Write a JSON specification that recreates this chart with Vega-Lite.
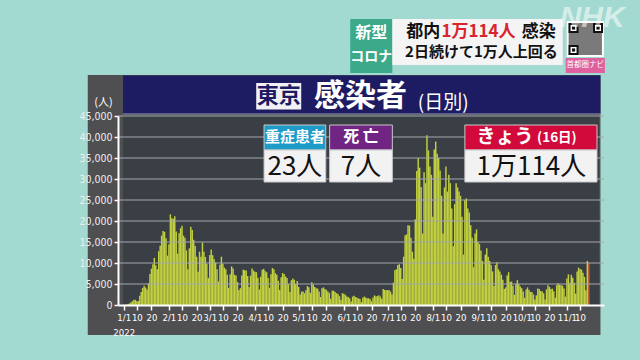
{
"$schema":"https://vega.github.io/schema/vega-lite/v6.json",
"width":486,"height":189,
"autosize":"none",
"padding":{"left":118,"top":116,"right":36,"bottom":55},
"background":"#a2d9d0",
"config":{"view":{"stroke":null},"text":{"font":"Noto Sans CJK JP"}},
"resolve":{"axis":{"x":"independent","y":"independent"}},
"datasets":{
"cases":[
{"date":"2022-01-01","count":79},{"date":"2022-01-02","count":84},{"date":"2022-01-03","count":103},{"date":"2022-01-04","count":151},{"date":"2022-01-05","count":390},{"date":"2022-01-06","count":641},{"date":"2022-01-07","count":922},{"date":"2022-01-08","count":1224},{"date":"2022-01-09","count":1223},{"date":"2022-01-10","count":871},{"date":"2022-01-11","count":962},{"date":"2022-01-12","count":2198},{"date":"2022-01-13","count":3124},{"date":"2022-01-14","count":4051},{"date":"2022-01-15","count":4561},{"date":"2022-01-16","count":4172},{"date":"2022-01-17","count":3719},{"date":"2022-01-18","count":5185},{"date":"2022-01-19","count":7377},{"date":"2022-01-20","count":8638},{"date":"2022-01-21","count":9699},{"date":"2022-01-22","count":11227},{"date":"2022-01-23","count":9468},{"date":"2022-01-24","count":8503},{"date":"2022-01-25","count":12813},{"date":"2022-01-26","count":14086},{"date":"2022-01-27","count":16538},{"date":"2022-01-28","count":17631},{"date":"2022-01-29","count":17433},{"date":"2022-01-30","count":15895},{"date":"2022-01-31","count":11751},
{"date":"2022-02-01","count":14445},{"date":"2022-02-02","count":21576},{"date":"2022-02-03","count":20679},{"date":"2022-02-04","count":20525},{"date":"2022-02-05","count":21122},{"date":"2022-02-06","count":17526},{"date":"2022-02-07","count":12214},{"date":"2022-02-08","count":17113},{"date":"2022-02-09","count":18287},{"date":"2022-02-10","count":18891},{"date":"2022-02-11","count":16500},{"date":"2022-02-12","count":16000},{"date":"2022-02-13","count":13000},{"date":"2022-02-14","count":8500},{"date":"2022-02-15","count":13500},{"date":"2022-02-16","count":18660},{"date":"2022-02-17","count":17864},{"date":"2022-02-18","count":15525},{"date":"2022-02-19","count":14071},{"date":"2022-02-20","count":11500},{"date":"2022-02-21","count":7934},{"date":"2022-02-22","count":12694},{"date":"2022-02-23","count":11500},{"date":"2022-02-24","count":14867},{"date":"2022-02-25","count":12660},{"date":"2022-02-26","count":11451},{"date":"2022-02-27","count":9800},{"date":"2022-02-28","count":6400},
{"date":"2022-03-01","count":11898},{"date":"2022-03-02","count":13239},{"date":"2022-03-03","count":11861},{"date":"2022-03-04","count":10906},{"date":"2022-03-05","count":10136},{"date":"2022-03-06","count":8500},{"date":"2022-03-07","count":5628},{"date":"2022-03-08","count":9574},{"date":"2022-03-09","count":11500},{"date":"2022-03-10","count":9800},{"date":"2022-03-11","count":8900},{"date":"2022-03-12","count":8500},{"date":"2022-03-13","count":7200},{"date":"2022-03-14","count":4100},{"date":"2022-03-15","count":7300},{"date":"2022-03-16","count":9200},{"date":"2022-03-17","count":8700},{"date":"2022-03-18","count":7200},{"date":"2022-03-19","count":7000},{"date":"2022-03-20","count":5500},{"date":"2022-03-21","count":3600},{"date":"2022-03-22","count":4000},{"date":"2022-03-23","count":7000},{"date":"2022-03-24","count":8400},{"date":"2022-03-25","count":8300},{"date":"2022-03-26","count":8200},{"date":"2022-03-27","count":6900},{"date":"2022-03-28","count":4300},{"date":"2022-03-29","count":7000},{"date":"2022-03-30","count":8700},{"date":"2022-03-31","count":8200},
{"date":"2022-04-01","count":7900},{"date":"2022-04-02","count":7800},{"date":"2022-04-03","count":6500},{"date":"2022-04-04","count":3700},{"date":"2022-04-05","count":6700},{"date":"2022-04-06","count":8400},{"date":"2022-04-07","count":8600},{"date":"2022-04-08","count":8100},{"date":"2022-04-09","count":7800},{"date":"2022-04-10","count":6400},{"date":"2022-04-11","count":4100},{"date":"2022-04-12","count":7300},{"date":"2022-04-13","count":8800},{"date":"2022-04-14","count":8500},{"date":"2022-04-15","count":7600},{"date":"2022-04-16","count":7200},{"date":"2022-04-17","count":5800},{"date":"2022-04-18","count":3600},{"date":"2022-04-19","count":6600},{"date":"2022-04-20","count":7600},{"date":"2022-04-21","count":7400},{"date":"2022-04-22","count":6800},{"date":"2022-04-23","count":6400},{"date":"2022-04-24","count":5000},{"date":"2022-04-25","count":3100},{"date":"2022-04-26","count":5900},{"date":"2022-04-27","count":6300},{"date":"2022-04-28","count":6000},{"date":"2022-04-29","count":5000},{"date":"2022-04-30","count":5700},
{"date":"2022-05-01","count":4300},{"date":"2022-05-02","count":2500},{"date":"2022-05-03","count":3200},{"date":"2022-05-04","count":3200},{"date":"2022-05-05","count":2800},{"date":"2022-05-06","count":3500},{"date":"2022-05-07","count":4500},{"date":"2022-05-08","count":4200},{"date":"2022-05-09","count":2900},{"date":"2022-05-10","count":5400},{"date":"2022-05-11","count":4900},{"date":"2022-05-12","count":4300},{"date":"2022-05-13","count":4000},{"date":"2022-05-14","count":3900},{"date":"2022-05-15","count":3200},{"date":"2022-05-16","count":1900},{"date":"2022-05-17","count":4000},{"date":"2022-05-18","count":4200},{"date":"2022-05-19","count":3800},{"date":"2022-05-20","count":3600},{"date":"2022-05-21","count":3200},{"date":"2022-05-22","count":2900},{"date":"2022-05-23","count":1500},{"date":"2022-05-24","count":3400},{"date":"2022-05-25","count":3400},{"date":"2022-05-26","count":3100},{"date":"2022-05-27","count":2800},{"date":"2022-05-28","count":2600},{"date":"2022-05-29","count":2100},{"date":"2022-05-30","count":1200},{"date":"2022-05-31","count":2800},
{"date":"2022-06-01","count":2700},{"date":"2022-06-02","count":2400},{"date":"2022-06-03","count":2000},{"date":"2022-06-04","count":1900},{"date":"2022-06-05","count":1600},{"date":"2022-06-06","count":850},{"date":"2022-06-07","count":2000},{"date":"2022-06-08","count":2200},{"date":"2022-06-09","count":1900},{"date":"2022-06-10","count":1700},{"date":"2022-06-11","count":1600},{"date":"2022-06-12","count":1400},{"date":"2022-06-13","count":700},{"date":"2022-06-14","count":1700},{"date":"2022-06-15","count":2000},{"date":"2022-06-16","count":1800},{"date":"2022-06-17","count":1600},{"date":"2022-06-18","count":1600},{"date":"2022-06-19","count":1400},{"date":"2022-06-20","count":900},{"date":"2022-06-21","count":1800},{"date":"2022-06-22","count":2300},{"date":"2022-06-23","count":2100},{"date":"2022-06-24","count":2100},{"date":"2022-06-25","count":2300},{"date":"2022-06-26","count":2000},{"date":"2022-06-27","count":1500},{"date":"2022-06-28","count":3800},{"date":"2022-06-29","count":3600},{"date":"2022-06-30","count":3500},
{"date":"2022-07-01","count":3546},{"date":"2022-07-02","count":3600},{"date":"2022-07-03","count":3200},{"date":"2022-07-04","count":2500},{"date":"2022-07-05","count":5300},{"date":"2022-07-06","count":8300},{"date":"2022-07-07","count":8500},{"date":"2022-07-08","count":9500},{"date":"2022-07-09","count":9700},{"date":"2022-07-10","count":8800},{"date":"2022-07-11","count":6200},{"date":"2022-07-12","count":11500},{"date":"2022-07-13","count":16600},{"date":"2022-07-14","count":16800},{"date":"2022-07-15","count":19000},{"date":"2022-07-16","count":18900},{"date":"2022-07-17","count":16000},{"date":"2022-07-18","count":12700},{"date":"2022-07-19","count":11000},{"date":"2022-07-20","count":20400},{"date":"2022-07-21","count":31900},{"date":"2022-07-22","count":35000},{"date":"2022-07-23","count":32700},{"date":"2022-07-24","count":28100},{"date":"2022-07-25","count":17000},{"date":"2022-07-26","count":31600},{"date":"2022-07-27","count":29000},{"date":"2022-07-28","count":40406},{"date":"2022-07-29","count":36814},{"date":"2022-07-30","count":33000},{"date":"2022-07-31","count":31000},
{"date":"2022-08-01","count":21000},{"date":"2022-08-02","count":37000},{"date":"2022-08-03","count":38900},{"date":"2022-08-04","count":36000},{"date":"2022-08-05","count":35000},{"date":"2022-08-06","count":32000},{"date":"2022-08-07","count":26000},{"date":"2022-08-08","count":17000},{"date":"2022-08-09","count":28000},{"date":"2022-08-10","count":33000},{"date":"2022-08-11","count":27000},{"date":"2022-08-12","count":31000},{"date":"2022-08-13","count":29000},{"date":"2022-08-14","count":23000},{"date":"2022-08-15","count":14000},{"date":"2022-08-16","count":24000},{"date":"2022-08-17","count":29000},{"date":"2022-08-18","count":28000},{"date":"2022-08-19","count":27000},{"date":"2022-08-20","count":26000},{"date":"2022-08-21","count":21000},{"date":"2022-08-22","count":12000},{"date":"2022-08-23","count":25000},{"date":"2022-08-24","count":25400},{"date":"2022-08-25","count":23000},{"date":"2022-08-26","count":22000},{"date":"2022-08-27","count":19000},{"date":"2022-08-28","count":16000},{"date":"2022-08-29","count":9000},{"date":"2022-08-30","count":17000},{"date":"2022-08-31","count":18000},
{"date":"2022-09-01","count":15000},{"date":"2022-09-02","count":14500},{"date":"2022-09-03","count":13000},{"date":"2022-09-04","count":10500},{"date":"2022-09-05","count":6000},{"date":"2022-09-06","count":12000},{"date":"2022-09-07","count":13500},{"date":"2022-09-08","count":11500},{"date":"2022-09-09","count":10500},{"date":"2022-09-10","count":9500},{"date":"2022-09-11","count":8000},{"date":"2022-09-12","count":4500},{"date":"2022-09-13","count":9500},{"date":"2022-09-14","count":10200},{"date":"2022-09-15","count":8500},{"date":"2022-09-16","count":8000},{"date":"2022-09-17","count":7200},{"date":"2022-09-18","count":6000},{"date":"2022-09-19","count":3800},{"date":"2022-09-20","count":4200},{"date":"2022-09-21","count":7000},{"date":"2022-09-22","count":7800},{"date":"2022-09-23","count":5500},{"date":"2022-09-24","count":5600},{"date":"2022-09-25","count":4600},{"date":"2022-09-26","count":2400},{"date":"2022-09-27","count":5000},{"date":"2022-09-28","count":5900},{"date":"2022-09-29","count":5000},{"date":"2022-09-30","count":4400},
{"date":"2022-10-01","count":4000},{"date":"2022-10-02","count":3200},{"date":"2022-10-03","count":1700},{"date":"2022-10-04","count":3700},{"date":"2022-10-05","count":4200},{"date":"2022-10-06","count":3600},{"date":"2022-10-07","count":3100},{"date":"2022-10-08","count":3100},{"date":"2022-10-09","count":2500},{"date":"2022-10-10","count":1300},{"date":"2022-10-11","count":2300},{"date":"2022-10-12","count":3900},{"date":"2022-10-13","count":3800},{"date":"2022-10-14","count":3300},{"date":"2022-10-15","count":3300},{"date":"2022-10-16","count":2800},{"date":"2022-10-17","count":1300},{"date":"2022-10-18","count":3700},{"date":"2022-10-19","count":4700},{"date":"2022-10-20","count":4300},{"date":"2022-10-21","count":3800},{"date":"2022-10-22","count":3900},{"date":"2022-10-23","count":3300},{"date":"2022-10-24","count":1700},{"date":"2022-10-25","count":4700},{"date":"2022-10-26","count":5200},{"date":"2022-10-27","count":4800},{"date":"2022-10-28","count":4700},{"date":"2022-10-29","count":4600},{"date":"2022-10-30","count":3900},{"date":"2022-10-31","count":2000},
{"date":"2022-11-01","count":6300},{"date":"2022-11-02","count":7300},{"date":"2022-11-03","count":5300},{"date":"2022-11-04","count":7200},{"date":"2022-11-05","count":6500},{"date":"2022-11-06","count":5300},{"date":"2022-11-07","count":2700},{"date":"2022-11-08","count":8000},{"date":"2022-11-09","count":8900},{"date":"2022-11-10","count":8600},{"date":"2022-11-11","count":8400},{"date":"2022-11-12","count":7700},{"date":"2022-11-13","count":6700},{"date":"2022-11-14","count":3500},{"date":"2022-11-15","count":10511},{"date":"2022-11-16","count":10114}
],
"grid":[{"level":5000},{"level":10000},{"level":15000},{"level":20000},{"level":25000},{"level":30000},{"level":35000},{"level":40000},{"level":45000}]
},
"layer":[
{"data":{"values":[{}]},"mark":{"type":"rect","fill":"#4f4f51"},"encoding":{"x":{"datum":{"year":2021,"month":12,"date":7,"hours":8,"utc":true},"type":"temporal","axis":null},"x2":{"datum":{"year":2022,"month":11,"date":24,"utc":true}},"y":{"datum":-7150,"type":"quantitative","axis":null},"y2":{"datum":54760}}},
{"data":{"values":[{}]},"mark":{"type":"rect","fill":"#3a3e45"},"encoding":{"x":{"datum":{"year":2021,"month":12,"date":31,"hours":12,"utc":true},"type":"temporal","axis":null},"x2":{"datum":{"year":2022,"month":11,"date":23,"utc":true}},"y":{"datum":0,"type":"quantitative","axis":null},"y2":{"datum":45480}}},
{"data":{"values":[{}]},"mark":{"type":"rect","fill":"#1d1b62"},"encoding":{"x":{"datum":{"year":2021,"month":12,"date":31,"hours":12,"utc":true},"type":"temporal","axis":null},"x2":{"datum":{"year":2022,"month":11,"date":24,"utc":true}},"y":{"datum":45480,"type":"quantitative","axis":null},"y2":{"datum":54640}}},
{"data":{"values":[{}]},"mark":{"type":"rule","color":"#9a9cb0","strokeWidth":1},"encoding":{"x":{"datum":{"year":2021,"month":12,"date":31,"hours":12,"utc":true},"type":"temporal","axis":null},"x2":{"datum":{"year":2022,"month":11,"date":24,"utc":true}},"y":{"datum":45480,"type":"quantitative","axis":null}}},
{"data":{"name":"cases"},"mark":{"type":"bar","width":1.45},
 "encoding":{
  "x":{"field":"date","type":"temporal",
   "scale":{"type":"utc","domain":[{"year":2021,"month":12,"date":31,"hours":12,"utc":true},{"year":2022,"month":11,"date":23,"utc":true}]},
   "axis":{"title":null,"grid":false,"zindex":1,"labelAngle":0,"labelOverlap":false,"labelFlush":false,
    "values":[{"year":2022,"month":1,"date":1,"utc":true},{"year":2022,"month":1,"date":10,"utc":true},{"year":2022,"month":1,"date":20,"utc":true},{"year":2022,"month":2,"date":1,"utc":true},{"year":2022,"month":2,"date":10,"utc":true},{"year":2022,"month":2,"date":20,"utc":true},{"year":2022,"month":3,"date":1,"utc":true},{"year":2022,"month":3,"date":10,"utc":true},{"year":2022,"month":3,"date":20,"utc":true},{"year":2022,"month":4,"date":1,"utc":true},{"year":2022,"month":4,"date":10,"utc":true},{"year":2022,"month":4,"date":20,"utc":true},{"year":2022,"month":5,"date":1,"utc":true},{"year":2022,"month":5,"date":10,"utc":true},{"year":2022,"month":5,"date":20,"utc":true},{"year":2022,"month":6,"date":1,"utc":true},{"year":2022,"month":6,"date":10,"utc":true},{"year":2022,"month":6,"date":20,"utc":true},{"year":2022,"month":7,"date":1,"utc":true},{"year":2022,"month":7,"date":10,"utc":true},{"year":2022,"month":7,"date":20,"utc":true},{"year":2022,"month":8,"date":1,"utc":true},{"year":2022,"month":8,"date":10,"utc":true},{"year":2022,"month":8,"date":20,"utc":true},{"year":2022,"month":9,"date":1,"utc":true},{"year":2022,"month":9,"date":10,"utc":true},{"year":2022,"month":9,"date":20,"utc":true},{"year":2022,"month":10,"date":1,"utc":true},{"year":2022,"month":10,"date":10,"utc":true},{"year":2022,"month":10,"date":20,"utc":true},{"year":2022,"month":11,"date":1,"utc":true},{"year":2022,"month":11,"date":10,"utc":true}],
    "labelExpr":"utcdate(datum.value) == 1 ? (utcmonth(datum.value) == 0 ? ['1/1', '2022'] : (utcmonth(datum.value) + 1) + '/1') : '' + utcdate(datum.value)",
    "labelColor":"#ffffff","labelFont":"Liberation Sans Narrow, DejaVu Sans Condensed, Roboto","labelFontSize":9.5,"labelLineHeight":15,"labelPadding":2,
    "tickColor":"#ffffff","tickSize":5,"tickWidth":1.5,"domainColor":"#ffffff","domainWidth":2}},
  "y":{"field":"count","type":"quantitative","scale":{"domain":[0,45000],"nice":false},
   "axis":{"title":null,"grid":false,"zindex":1,"values":[0,5000,10000,15000,20000,25000,30000,35000,40000,45000],"format":",d",
    "labelColor":"#eeeeee","labelFont":"Liberation Sans Narrow, DejaVu Sans Condensed, Roboto","labelFontSize":10.5,"labelPadding":2,
    "tickColor":"#ffffff","tickSize":4,"tickWidth":1.5,"domainColor":"#ffffff","domainWidth":2}},
  "color":{"condition":{"test":"utcmonth(datum.date) == 10 && utcdate(datum.date) == 16","value":"#c8642c"},"value":"#c2d13f"}
 }},
{"data":{"name":"grid"},"mark":{"type":"rule","color":"#a4a8ad","strokeWidth":1},"encoding":{"y":{"field":"level","type":"quantitative","axis":null}}},
{"data":{"values":[{}]},"mark":{"type":"rect","fill":"#1f9bc8","stroke":"#c8c8c8","strokeWidth":1},"encoding":{"x":{"datum":{"year":2022,"month":4,"date":7,"hours":6,"utc":true},"type":"temporal","axis":null},"x2":{"datum":{"year":2022,"month":5,"date":19,"hours":14,"utc":true}},"y":{"datum":36905,"type":"quantitative","axis":null},"y2":{"datum":42857}}},
{"data":{"values":[{}]},"mark":{"type":"rect","fill":"#f2f2f2","stroke":"#c8c8c8","strokeWidth":1},"encoding":{"x":{"datum":{"year":2022,"month":4,"date":7,"hours":6,"utc":true},"type":"temporal","axis":null},"x2":{"datum":{"year":2022,"month":5,"date":19,"hours":14,"utc":true}},"y":{"datum":29285,"type":"quantitative","axis":null},"y2":{"datum":36905}}},
{"data":{"values":[{}]},"mark":{"type":"rect","fill":"#6f2581","stroke":"#c8c8c8","strokeWidth":1},"encoding":{"x":{"datum":{"year":2022,"month":5,"date":22,"hours":6,"utc":true},"type":"temporal","axis":null},"x2":{"datum":{"year":2022,"month":7,"date":4,"hours":6,"utc":true}},"y":{"datum":36905,"type":"quantitative","axis":null},"y2":{"datum":42857}}},
{"data":{"values":[{}]},"mark":{"type":"rect","fill":"#f2f2f2","stroke":"#c8c8c8","strokeWidth":1},"encoding":{"x":{"datum":{"year":2022,"month":5,"date":22,"hours":6,"utc":true},"type":"temporal","axis":null},"x2":{"datum":{"year":2022,"month":7,"date":4,"hours":6,"utc":true}},"y":{"datum":29285,"type":"quantitative","axis":null},"y2":{"datum":36905}}},
{"data":{"values":[{}]},"mark":{"type":"rect","fill":"#d20a3c","stroke":"#c8c8c8","strokeWidth":1},"encoding":{"x":{"datum":{"year":2022,"month":8,"date":23,"utc":true},"type":"temporal","axis":null},"x2":{"datum":{"year":2022,"month":11,"date":21,"hours":15,"utc":true}},"y":{"datum":36905,"type":"quantitative","axis":null},"y2":{"datum":42857}}},
{"data":{"values":[{}]},"mark":{"type":"rect","fill":"#f2f2f2","stroke":"#c8c8c8","strokeWidth":1},"encoding":{"x":{"datum":{"year":2022,"month":8,"date":23,"utc":true},"type":"temporal","axis":null},"x2":{"datum":{"year":2022,"month":11,"date":21,"hours":15,"utc":true}},"y":{"datum":29285,"type":"quantitative","axis":null},"y2":{"datum":36905}}},
{"data":{"values":[{}]},"mark":{"type":"text","text":"重症患者","fontSize":15,"fontWeight":"bold","color":"#ffffff","align":"center","baseline":"middle"},"encoding":{"x":{"datum":{"year":2022,"month":4,"date":28,"hours":10,"utc":true},"type":"temporal","axis":null},"y":{"datum":40000,"type":"quantitative","axis":null}}},
{"data":{"values":[{}]},"mark":{"type":"text","text":"23人","fontSize":26,"color":"#111111","align":"center","baseline":"middle"},"encoding":{"x":{"datum":{"year":2022,"month":4,"date":28,"hours":10,"utc":true},"type":"temporal","axis":null},"y":{"datum":32800,"type":"quantitative","axis":null}}},
{"data":{"values":[{}]},"mark":{"type":"text","text":"死 亡","fontSize":16,"fontWeight":"bold","color":"#ffffff","align":"center","baseline":"middle"},"encoding":{"x":{"datum":{"year":2022,"month":6,"date":12,"hours":18,"utc":true},"type":"temporal","axis":null},"y":{"datum":40000,"type":"quantitative","axis":null}}},
{"data":{"values":[{}]},"mark":{"type":"text","text":"7人","fontSize":26,"color":"#111111","align":"center","baseline":"middle"},"encoding":{"x":{"datum":{"year":2022,"month":6,"date":12,"hours":18,"utc":true},"type":"temporal","axis":null},"y":{"datum":32800,"type":"quantitative","axis":null}}},
{"data":{"values":[{}]},"mark":{"type":"text","text":"きょう","fontSize":19,"fontWeight":"bold","color":"#ffffff","align":"center","baseline":"middle"},"encoding":{"x":{"datum":{"year":2022,"month":9,"date":19,"hours":12,"utc":true},"type":"temporal","axis":null},"y":{"datum":39900,"type":"quantitative","axis":null}}},
{"data":{"values":[{}]},"mark":{"type":"text","text":"(16日)","fontSize":13.5,"fontWeight":"bold","color":"#ffffff","align":"center","baseline":"middle"},"encoding":{"x":{"datum":{"year":2022,"month":10,"date":25,"hours":3,"utc":true},"type":"temporal","axis":null},"y":{"datum":39700,"type":"quantitative","axis":null}}},
{"data":{"values":[{}]},"mark":{"type":"text","text":"1万114人","fontSize":26,"color":"#111111","align":"center","baseline":"middle"},"encoding":{"x":{"datum":{"year":2022,"month":10,"date":7,"hours":15,"utc":true},"type":"temporal","axis":null},"y":{"datum":32800,"type":"quantitative","axis":null}}},
{"data":{"values":[{}]},"mark":{"type":"rect","fill":"#f0f0f5"},"encoding":{"x":{"datum":{"year":2022,"month":4,"date":1,"hours":21,"utc":true},"type":"temporal","axis":null},"x2":{"datum":{"year":2022,"month":5,"date":2,"hours":18,"utc":true}},"y":{"datum":46548,"type":"quantitative","axis":null},"y2":{"datum":52857}}},
{"data":{"values":[{}]},"mark":{"type":"text","text":"東京","fontSize":22,"fontWeight":"bold","color":"#1d1b62","align":"center","baseline":"middle"},"encoding":{"x":{"datum":{"year":2022,"month":4,"date":17,"hours":7,"utc":true},"type":"temporal","axis":null},"y":{"datum":49643,"type":"quantitative","axis":null}}},
{"data":{"values":[{}]},"mark":{"type":"text","text":"感染者","fontSize":31,"fontWeight":"bold","color":"#ffffff","align":"left","baseline":"middle"},"encoding":{"x":{"datum":{"year":2022,"month":5,"date":11,"hours":12,"utc":true},"type":"temporal","axis":null},"y":{"datum":49524,"type":"quantitative","axis":null}}},
{"data":{"values":[{}]},"mark":{"type":"text","text":"(日別)","fontSize":19,"color":"#ffffff","align":"left","baseline":"middle"},"encoding":{"x":{"datum":{"year":2022,"month":7,"date":21,"hours":17,"utc":true},"type":"temporal","axis":null},"y":{"datum":48095,"type":"quantitative","axis":null}}},
{"data":{"values":[{}]},"mark":{"type":"text","text":"(人)","fontSize":11,"color":"#ffffff","align":"center","baseline":"middle"},"encoding":{"x":{"datum":{"year":2021,"month":12,"date":18,"hours":2,"utc":true},"type":"temporal","axis":null},"y":{"datum":48095,"type":"quantitative","axis":null}}},
{"data":{"values":[{}]},"mark":{"type":"rect","fill":"#3ca98b"},"encoding":{"x":{"datum":{"year":2022,"month":6,"date":5,"hours":9,"utc":true},"type":"temporal","axis":null},"x2":{"datum":{"year":2022,"month":7,"date":4,"hours":6,"utc":true}},"y":{"datum":55238,"type":"quantitative","axis":null},"y2":{"datum":68096}}},
{"data":{"values":[{}]},"mark":{"type":"text","text":"新型","fontSize":16,"fontWeight":"bold","color":"#ffffff","align":"center","baseline":"middle"},"encoding":{"x":{"datum":{"year":2022,"month":6,"date":19,"hours":19,"utc":true},"type":"temporal","axis":null},"y":{"datum":64762,"type":"quantitative","axis":null}}},
{"data":{"values":[{}]},"mark":{"type":"text","text":"コロナ","fontSize":14,"fontWeight":"bold","color":"#ffffff","align":"center","baseline":"middle"},"encoding":{"x":{"datum":{"year":2022,"month":6,"date":19,"hours":19,"utc":true},"type":"temporal","axis":null},"y":{"datum":59048,"type":"quantitative","axis":null}}},
{"data":{"values":[{}]},"mark":{"type":"rect","fill":"#f4f4f4"},"encoding":{"x":{"datum":{"year":2022,"month":7,"date":4,"hours":6,"utc":true},"type":"temporal","axis":null},"x2":{"datum":{"year":2022,"month":10,"date":29,"hours":3,"utc":true}},"y":{"datum":57143,"type":"quantitative","axis":null},"y2":{"datum":68096}}},
{"data":{"values":[{}]},"mark":{"type":"text","text":"都内","fontSize":17,"fontWeight":"bold","color":"#111111","align":"center","baseline":"middle"},"encoding":{"x":{"datum":{"year":2022,"month":7,"date":25,"hours":10,"utc":true},"type":"temporal","axis":null},"y":{"datum":65119,"type":"quantitative","axis":null}}},
{"data":{"values":[{}]},"mark":{"type":"text","text":"1万114人","fontSize":17,"fontWeight":"bold","color":"#d9232e","align":"center","baseline":"middle"},"encoding":{"x":{"datum":{"year":2022,"month":9,"date":1,"hours":9,"utc":true},"type":"temporal","axis":null},"y":{"datum":65119,"type":"quantitative","axis":null}}},
{"data":{"values":[{}]},"mark":{"type":"text","text":"感染","fontSize":17,"fontWeight":"bold","color":"#111111","align":"center","baseline":"middle"},"encoding":{"x":{"datum":{"year":2022,"month":10,"date":12,"hours":16,"utc":true},"type":"temporal","axis":null},"y":{"datum":65119,"type":"quantitative","axis":null}}},
{"data":{"values":[{}]},"mark":{"type":"text","text":"2日続けて1万人上回る","fontSize":15,"fontWeight":"bold","color":"#111111","align":"center","baseline":"middle"},"encoding":{"x":{"datum":{"year":2022,"month":9,"date":3,"hours":9,"utc":true},"type":"temporal","axis":null},"y":{"datum":60357,"type":"quantitative","axis":null}}},
{"data":{"values":[{}]},"mark":{"type":"rect","fill":"#ffffff"},"encoding":{"x":{"datum":{"year":2022,"month":10,"date":31,"hours":20,"utc":true},"type":"temporal","axis":null},"x2":{"datum":{"year":2022,"month":11,"date":26,"hours":9,"utc":true}},"y":{"datum":59048,"type":"quantitative","axis":null},"y2":{"datum":67619}}},
{"data":{"values":[{}]},"mark":{"type":"rect","fill":"#7a7a7a"},"encoding":{"x":{"datum":{"year":2022,"month":11,"date":2,"hours":4,"utc":true},"type":"temporal","axis":null},"x2":{"datum":{"year":2022,"month":11,"date":25,"hours":0,"utc":true}},"y":{"datum":59524,"type":"quantitative","axis":null},"y2":{"datum":67143}}},
{"data":{"values":[{}]},"mark":{"type":"point","shape":"square","size":64,"filled":true,"fill":"#ffffff","stroke":"#111111","strokeWidth":2,"opacity":1},"encoding":{"x":{"datum":{"year":2022,"month":11,"date":5,"hours":13,"utc":true},"type":"temporal","axis":null},"y":{"datum":65953,"type":"quantitative","axis":null}}},
{"data":{"values":[{}]},"mark":{"type":"point","shape":"square","size":64,"filled":true,"fill":"#ffffff","stroke":"#111111","strokeWidth":2,"opacity":1},"encoding":{"x":{"datum":{"year":2022,"month":11,"date":22,"hours":8,"utc":true},"type":"temporal","axis":null},"y":{"datum":65953,"type":"quantitative","axis":null}}},
{"data":{"values":[{}]},"mark":{"type":"point","shape":"square","size":64,"filled":true,"fill":"#ffffff","stroke":"#111111","strokeWidth":2,"opacity":1},"encoding":{"x":{"datum":{"year":2022,"month":11,"date":5,"hours":13,"utc":true},"type":"temporal","axis":null},"y":{"datum":60715,"type":"quantitative","axis":null}}},
{"data":{"values":[{}]},"mark":{"type":"point","shape":"square","size":10,"filled":true,"color":"#111111","opacity":1},"encoding":{"x":{"datum":{"year":2022,"month":11,"date":5,"hours":13,"utc":true},"type":"temporal","axis":null},"y":{"datum":65953,"type":"quantitative","axis":null}}},
{"data":{"values":[{}]},"mark":{"type":"point","shape":"square","size":10,"filled":true,"color":"#111111","opacity":1},"encoding":{"x":{"datum":{"year":2022,"month":11,"date":22,"hours":8,"utc":true},"type":"temporal","axis":null},"y":{"datum":65953,"type":"quantitative","axis":null}}},
{"data":{"values":[{}]},"mark":{"type":"point","shape":"square","size":10,"filled":true,"color":"#111111","opacity":1},"encoding":{"x":{"datum":{"year":2022,"month":11,"date":5,"hours":13,"utc":true},"type":"temporal","axis":null},"y":{"datum":60715,"type":"quantitative","axis":null}}},
{"data":{"values":[{}]},"mark":{"type":"rect","fill":"#e0609f"},"encoding":{"x":{"datum":{"year":2022,"month":10,"date":31,"hours":4,"utc":true},"type":"temporal","axis":null},"x2":{"datum":{"year":2022,"month":11,"date":27,"hours":1,"utc":true}},"y":{"datum":55238,"type":"quantitative","axis":null},"y2":{"datum":58810}}},
{"data":{"values":[{}]},"mark":{"type":"text","text":"首都圏ナビ","fontSize":7.5,"color":"#ffffff","align":"center","baseline":"middle"},"encoding":{"x":{"datum":{"year":2022,"month":11,"date":13,"hours":14,"utc":true},"type":"temporal","axis":null},"y":{"datum":57024,"type":"quantitative","axis":null}}},
{"data":{"values":[{}]},"mark":{"type":"text","text":"NHK","font":"Liberation Sans","fontSize":30,"fontWeight":"bold","fontStyle":"italic","color":"#ffffff","opacity":0.55,"align":"center","baseline":"middle"},"encoding":{"x":{"datum":{"year":2022,"month":11,"date":18,"hours":7,"utc":true},"type":"temporal","axis":null},"y":{"datum":68334,"type":"quantitative","axis":null}}}
]
}
